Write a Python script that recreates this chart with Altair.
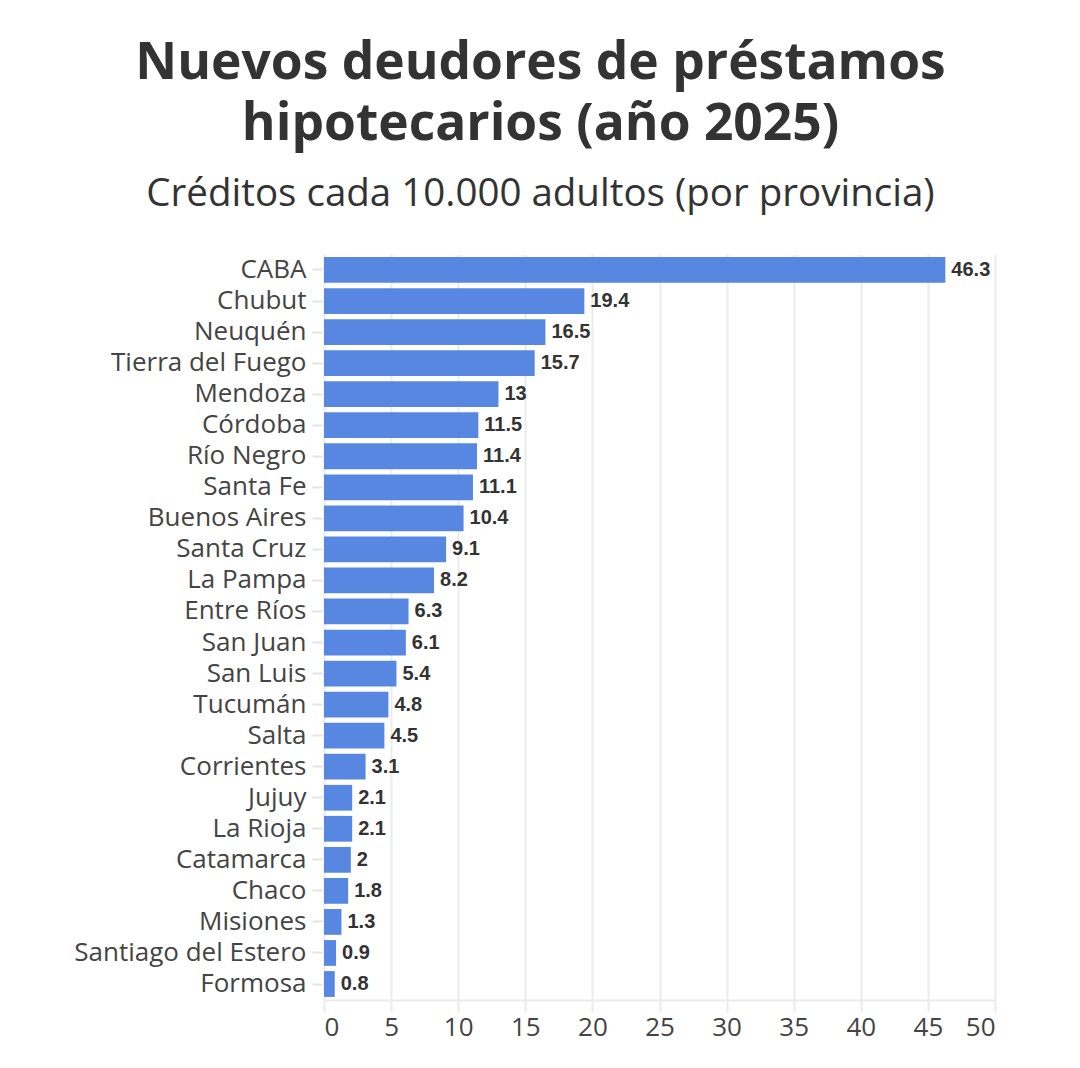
import altair as alt
import pandas as pd

provincias = [
    "CABA", "Chubut", "Neuquén", "Tierra del Fuego", "Mendoza", "Córdoba",
    "Río Negro", "Santa Fe", "Buenos Aires", "Santa Cruz", "La Pampa",
    "Entre Ríos", "San Juan", "San Luis", "Tucumán", "Salta", "Corrientes",
    "Jujuy", "La Rioja", "Catamarca", "Chaco", "Misiones",
    "Santiago del Estero", "Formosa",
]
creditos = [
    46.3, 19.4, 16.5, 15.7, 13, 11.5, 11.4, 11.1, 10.4, 9.1, 8.2,
    6.3, 6.1, 5.4, 4.8, 4.5, 3.1, 2.1, 2.1, 2, 1.8, 1.3, 0.9, 0.8,
]
x_ticks = [0, 5, 10, 15, 20, 25, 30, 35, 40, 45, 50]

df = pd.DataFrame({"provincia": provincias, "creditos": creditos})
df["etiqueta"] = [f"{v:g}" for v in creditos]

FONT = "Open Sans"

base = alt.Chart(df).encode(
    y=alt.Y(
        "provincia:N",
        sort=provincias,
        title=None,
        scale=alt.Scale(paddingInner=0.17, paddingOuter=0.1),
        axis=alt.Axis(
            domain=False,
            ticks=True,
            tickColor="#e3e3e3",
            tickWidth=2,
            tickSize=10,
            offset=2,
            labelFont=FONT,
            labelFontSize=26,
            labelColor="#444444",
            labelPadding=6,
            labelLimit=400,
            grid=False,
        ),
    ),
    x=alt.X(
        "creditos:Q",
        title=None,
        scale=alt.Scale(domain=[0, 50], nice=False),
        axis=alt.Axis(
            values=x_ticks,
            grid=True,
            gridColor="#ebebeb",
            gridWidth=2,
            domainColor="#ebebeb",
            domainWidth=2,
            tickColor="#ebebeb",
            tickWidth=2,
            tickSize=12,
            labelFont=FONT,
            labelFontSize=26,
            labelColor="#444444",
            labelPadding=2,
        ),
    ),
)

bars = base.mark_bar(color="#5787e0")

labels = base.mark_text(
    align="left",
    baseline="middle",
    dx=6,
    font="Liberation Sans",
    fontWeight="bold",
    fontSize=20,
    color="#333333",
).encode(text="etiqueta:N")

chart = (
    alt.layer(bars, labels)
    .properties(
        width=671,
        height=746,
        padding={"left": 324, "top": 254, "right": 85, "bottom": 68},
        autosize=alt.AutoSizeParams(type="none"),
        view=alt.ViewBackground(stroke="transparent", strokeWidth=0),
        title=alt.TitleParams(
            text=["Nuevos deudores de préstamos", "hipotecarios (año 2025)"],
            subtitle="Créditos cada 10.000 adultos (por provincia)",
            anchor="middle",
            dx=-119,
            font=FONT,
            fontSize=51.5,
            fontWeight="bold",
            color="#333333",
            lineHeight=61,
            subtitleFont=FONT,
            subtitleFontSize=38.5,
            subtitleColor="#333333",
            subtitlePadding=25,
            offset=41,
        ),
    )
    .configure_view(stroke="transparent", strokeWidth=0)
    .configure(background="white")
)

chart.save("out.html", embed_options={"renderer": "svg", "actions": False})
